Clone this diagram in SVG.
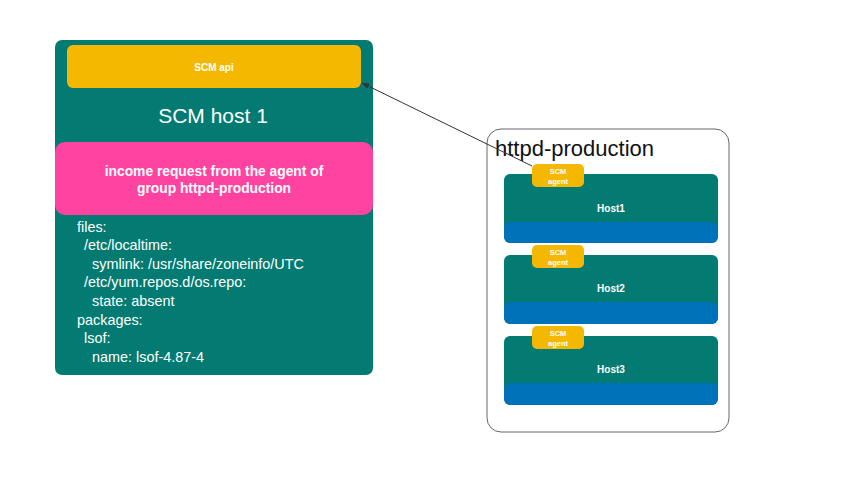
<svg xmlns="http://www.w3.org/2000/svg" width="853" height="480" viewBox="0 0 853 480">
<style>
text{font-family:"Liberation Sans",Arial,sans-serif;}
.teal{fill:#037B72;}
.yellow{fill:#F5B800;}
.blue{fill:#0072B9;}
.w{fill:#ffffff;}
.b{font-weight:bold;}
.yaml{fill:#ffffff;font-size:14.4px;}
</style>
<defs>
<marker id="arr" markerWidth="8" markerHeight="8" refX="7" refY="4" orient="auto" markerUnits="userSpaceOnUse">
<path d="M0,1 L7,4 L0,7 Z" fill="#333"/>
</marker>
</defs>
<rect width="853" height="480" fill="#ffffff"/>
<g id="scm-host-1">
<rect class="teal" x="55" y="40" width="318" height="335" rx="7"/>
<text class="w" x="213" y="123" font-size="21" text-anchor="middle">SCM host 1</text>
</g>
<g id="scm-api">
<rect class="yellow" x="67" y="45" width="294" height="43" rx="6"/>
<text class="w b" x="214" y="71" font-size="10" text-anchor="middle">SCM api</text>
</g>
<g id="income-request">
<rect x="55" y="142" width="318" height="73" rx="10" fill="#FF43A1"/>
<text class="w b" x="214" y="176" font-size="13.8" text-anchor="middle">income request from the agent of</text>
<text class="w b" x="214" y="193" font-size="13.8" text-anchor="middle">group httpd-production</text>
</g>
<g id="config">
<text class="yaml" x="77" y="232">files:</text>
<text class="yaml" x="84" y="250">/etc/localtime:</text>
<text class="yaml" x="92" y="269">symlink: /usr/share/zoneinfo/UTC</text>
<text class="yaml" x="84" y="287">/etc/yum.repos.d/os.repo:</text>
<text class="yaml" x="92" y="306">state: absent</text>
<text class="yaml" x="77" y="325">packages:</text>
<text class="yaml" x="84" y="343">lsof:</text>
<text class="yaml" x="92" y="362">name: lsof-4.87-4</text>
</g>
<g id="httpd-production">
<rect x="487" y="129" width="242" height="303" rx="14" fill="#ffffff" stroke="#666" stroke-width="1"/>
<text x="495" y="156" font-size="22" fill="#111">httpd-production</text>
</g>
<g id="host1">
<rect class="teal" x="504" y="174" width="214" height="69" rx="6"/>
<rect class="blue" x="504" y="222" width="214" height="21" rx="7"/>
<text class="w b" x="611" y="212" font-size="10" text-anchor="middle">Host1</text>
</g>
<g id="agent1">
<rect class="yellow" x="532" y="164" width="52" height="23" rx="5"/>
<text class="w b" x="558" y="174" font-size="7.5" text-anchor="middle">SCM</text>
<text class="w b" x="558" y="184" font-size="7.5" text-anchor="middle">agent</text>
</g>
<g id="host2">
<rect class="teal" x="504" y="255" width="214" height="69" rx="6"/>
<rect class="blue" x="504" y="302" width="214" height="22" rx="7"/>
<text class="w b" x="611" y="292" font-size="10" text-anchor="middle">Host2</text>
</g>
<g id="agent2">
<rect class="yellow" x="532" y="245" width="52" height="23" rx="5"/>
<text class="w b" x="558" y="255" font-size="7.5" text-anchor="middle">SCM</text>
<text class="w b" x="558" y="265" font-size="7.5" text-anchor="middle">agent</text>
</g>
<g id="host3">
<rect class="teal" x="504" y="336" width="214" height="69" rx="6"/>
<rect class="blue" x="504" y="383" width="214" height="22" rx="7"/>
<text class="w b" x="611" y="373" font-size="10" text-anchor="middle">Host3</text>
</g>
<g id="agent3">
<rect class="yellow" x="532" y="326" width="52" height="23" rx="5"/>
<text class="w b" x="558" y="336" font-size="7.5" text-anchor="middle">SCM</text>
<text class="w b" x="558" y="346" font-size="7.5" text-anchor="middle">agent</text>
</g>
<g id="connectors">
<line x1="532" y1="166" x2="362" y2="83" stroke="#333" stroke-width="1" marker-end="url(#arr)"/>
</g>
</svg>
